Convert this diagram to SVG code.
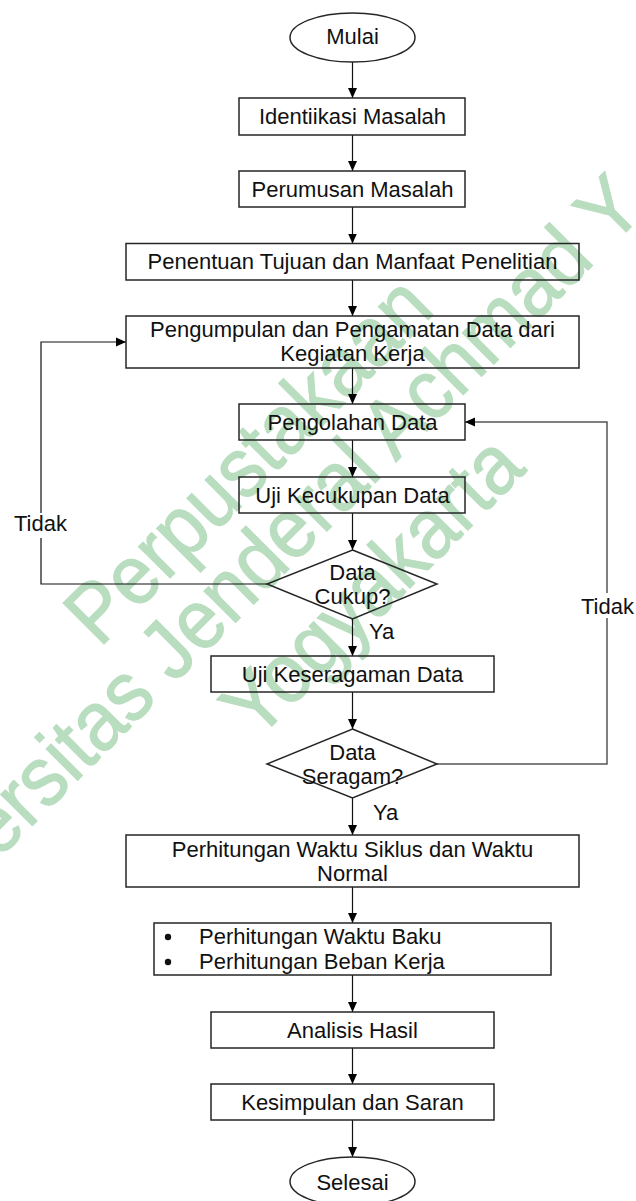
<svg xmlns="http://www.w3.org/2000/svg" width="636" height="1201" viewBox="0 0 636 1201">
<style>
  .box { fill: none; stroke: #262626; stroke-width: 1.5; }
  .lbl { font-family: "Liberation Sans", Arial, sans-serif; font-size: 22px; fill: #111; text-anchor: middle; }
  .lbs { font-family: "Liberation Sans", Arial, sans-serif; font-size: 22px; fill: #111; }
  .con { fill: none; stroke: #111; stroke-width: 1.2; }
  .loop { fill: none; stroke: #555; stroke-width: 1.5; }
  .wm { font-family: "Liberation Sans", Arial, sans-serif; font-size: 84px; fill: #b9ddbf; stroke: #b9ddbf; stroke-width: 1.2; }
</style>
<defs>
  <marker id="ah" markerUnits="userSpaceOnUse" markerWidth="11" markerHeight="10" refX="10" refY="5" orient="auto">
    <path d="M0,0.5 L10,5 L0,9.5 z" fill="#000"/>
  </marker>
</defs>
<rect width="636" height="1201" fill="#fff"/>

<g id="watermark">
  <text class="wm" text-anchor="middle" transform="translate(268,480) rotate(-45) scale(0.92,1)">Perpustakaan</text>
  <text class="wm" text-anchor="start" transform="translate(-2,860) rotate(-45) scale(0.92,1)" font-size="86">ersitas Jenderal Achmad Y</text>
  <text class="wm" text-anchor="middle" transform="translate(392,606) rotate(-45) scale(0.92,1)">Yogyakarta</text>
</g>

<g id="connectors">
  <line class="con" x1="352.5" y1="62" x2="352.5" y2="98" marker-end="url(#ah)"/>
  <line class="con" x1="352.5" y1="135" x2="352.5" y2="171" marker-end="url(#ah)"/>
  <line class="con" x1="352.5" y1="207" x2="352.5" y2="243.5" marker-end="url(#ah)"/>
  <line class="con" x1="352.5" y1="280" x2="352.5" y2="316" marker-end="url(#ah)"/>
  <line class="con" x1="352.5" y1="368" x2="352.5" y2="404" marker-end="url(#ah)"/>
  <line class="con" x1="352.5" y1="440" x2="352.5" y2="477" marker-end="url(#ah)"/>
  <line class="con" x1="352.5" y1="513" x2="352.5" y2="550" marker-end="url(#ah)"/>
  <line class="con" x1="352.5" y1="619" x2="352.5" y2="656" marker-end="url(#ah)"/>
  <line class="con" x1="352.5" y1="692" x2="352.5" y2="729" marker-end="url(#ah)"/>
  <line class="con" x1="352.5" y1="798" x2="352.5" y2="835" marker-end="url(#ah)"/>
  <line class="con" x1="352.5" y1="887" x2="352.5" y2="923" marker-end="url(#ah)"/>
  <line class="con" x1="352.5" y1="975" x2="352.5" y2="1012" marker-end="url(#ah)"/>
  <line class="con" x1="352.5" y1="1048" x2="352.5" y2="1084" marker-end="url(#ah)"/>
  <line class="con" x1="352.5" y1="1120" x2="352.5" y2="1157" marker-end="url(#ah)"/>
  <polyline class="con" points="267,584 41,584 41,342 126,342" marker-end="url(#ah)"/>
  <polyline class="loop" points="437,764 607,764 607,422 465,422" marker-end="url(#ah)"/>
  <rect x="12" y="513" width="58" height="25" fill="#fff"/>
  <text class="lbs" x="14" y="531">Tidak</text>
  <rect x="579" y="593" width="57" height="25" fill="#fff"/>
  <text class="lbs" x="581" y="614">Tidak</text>
  <text class="lbs" x="369" y="639">Ya</text>
  <text class="lbs" x="373" y="820">Ya</text>
</g>

<g id="mulai">
  <ellipse class="box" cx="352.5" cy="37.5" rx="62.5" ry="24.5"/>
  <text class="lbl" x="352.5" y="44">Mulai</text>
</g>
<g id="identifikasi">
  <rect class="box" x="239" y="98" width="226" height="37"/>
  <text class="lbl" x="352.5" y="124">Identiikasi Masalah</text>
</g>
<g id="perumusan">
  <rect class="box" x="239" y="171" width="226" height="36"/>
  <text class="lbl" x="352.5" y="196.5">Perumusan Masalah</text>
</g>
<g id="penentuan">
  <rect class="box" x="126" y="243.5" width="453" height="36.5"/>
  <text class="lbl" x="352.5" y="269">Penentuan Tujuan dan Manfaat Penelitian</text>
</g>
<g id="pengumpulan">
  <rect class="box" x="126" y="316" width="453" height="52"/>
  <text class="lbl" x="352.5" y="337">Pengumpulan dan Pengamatan Data dari</text>
  <text class="lbl" x="352.5" y="361">Kegiatan Kerja</text>
</g>
<g id="pengolahan">
  <rect class="box" x="239" y="404" width="226" height="36"/>
  <text class="lbl" x="352.5" y="429.5">Pengolahan Data</text>
</g>
<g id="kecukupan">
  <rect class="box" x="239" y="477" width="226" height="36"/>
  <text class="lbl" x="352.5" y="502.5">Uji Kecukupan Data</text>
</g>
<g id="cukup">
  <polygon class="box" points="352.5,550 437,584 352.5,619 267,584"/>
  <text class="lbl" x="352.5" y="580">Data</text>
  <text class="lbl" x="352.5" y="604">Cukup?</text>
</g>
<g id="keseragaman">
  <rect class="box" x="211" y="656" width="283" height="36"/>
  <text class="lbl" x="352.5" y="681.5">Uji Keseragaman Data</text>
</g>
<g id="seragam">
  <polygon class="box" points="352.5,729 437,764 352.5,798 267,764"/>
  <text class="lbl" x="352.5" y="760">Data</text>
  <text class="lbl" x="352.5" y="784">Seragam?</text>
</g>
<g id="perhitungan">
  <rect class="box" x="126" y="835" width="453" height="52"/>
  <text class="lbl" x="352.5" y="856.5">Perhitungan Waktu Siklus dan Waktu</text>
  <text class="lbl" x="352.5" y="880.5">Normal</text>
</g>
<g id="baku">
  <rect class="box" x="154" y="923" width="397" height="52"/>
  <circle cx="168" cy="937" r="3.2" fill="#111"/>
  <circle cx="168" cy="962" r="3.2" fill="#111"/>
  <text class="lbs" x="199" y="944">Perhitungan Waktu Baku</text>
  <text class="lbs" x="199" y="969">Perhitungan Beban Kerja</text>
</g>
<g id="analisis">
  <rect class="box" x="211" y="1012" width="283" height="36"/>
  <text class="lbl" x="352.5" y="1037.5">Analisis Hasil</text>
</g>
<g id="kesimpulan">
  <rect class="box" x="211" y="1084" width="283" height="36"/>
  <text class="lbl" x="352.5" y="1109.5">Kesimpulan dan Saran</text>
</g>
<g id="selesai">
  <ellipse class="box" cx="352.5" cy="1181.5" rx="62.5" ry="24.5"/>
  <text class="lbl" x="352.5" y="1190">Selesai</text>
</g>
</svg>
